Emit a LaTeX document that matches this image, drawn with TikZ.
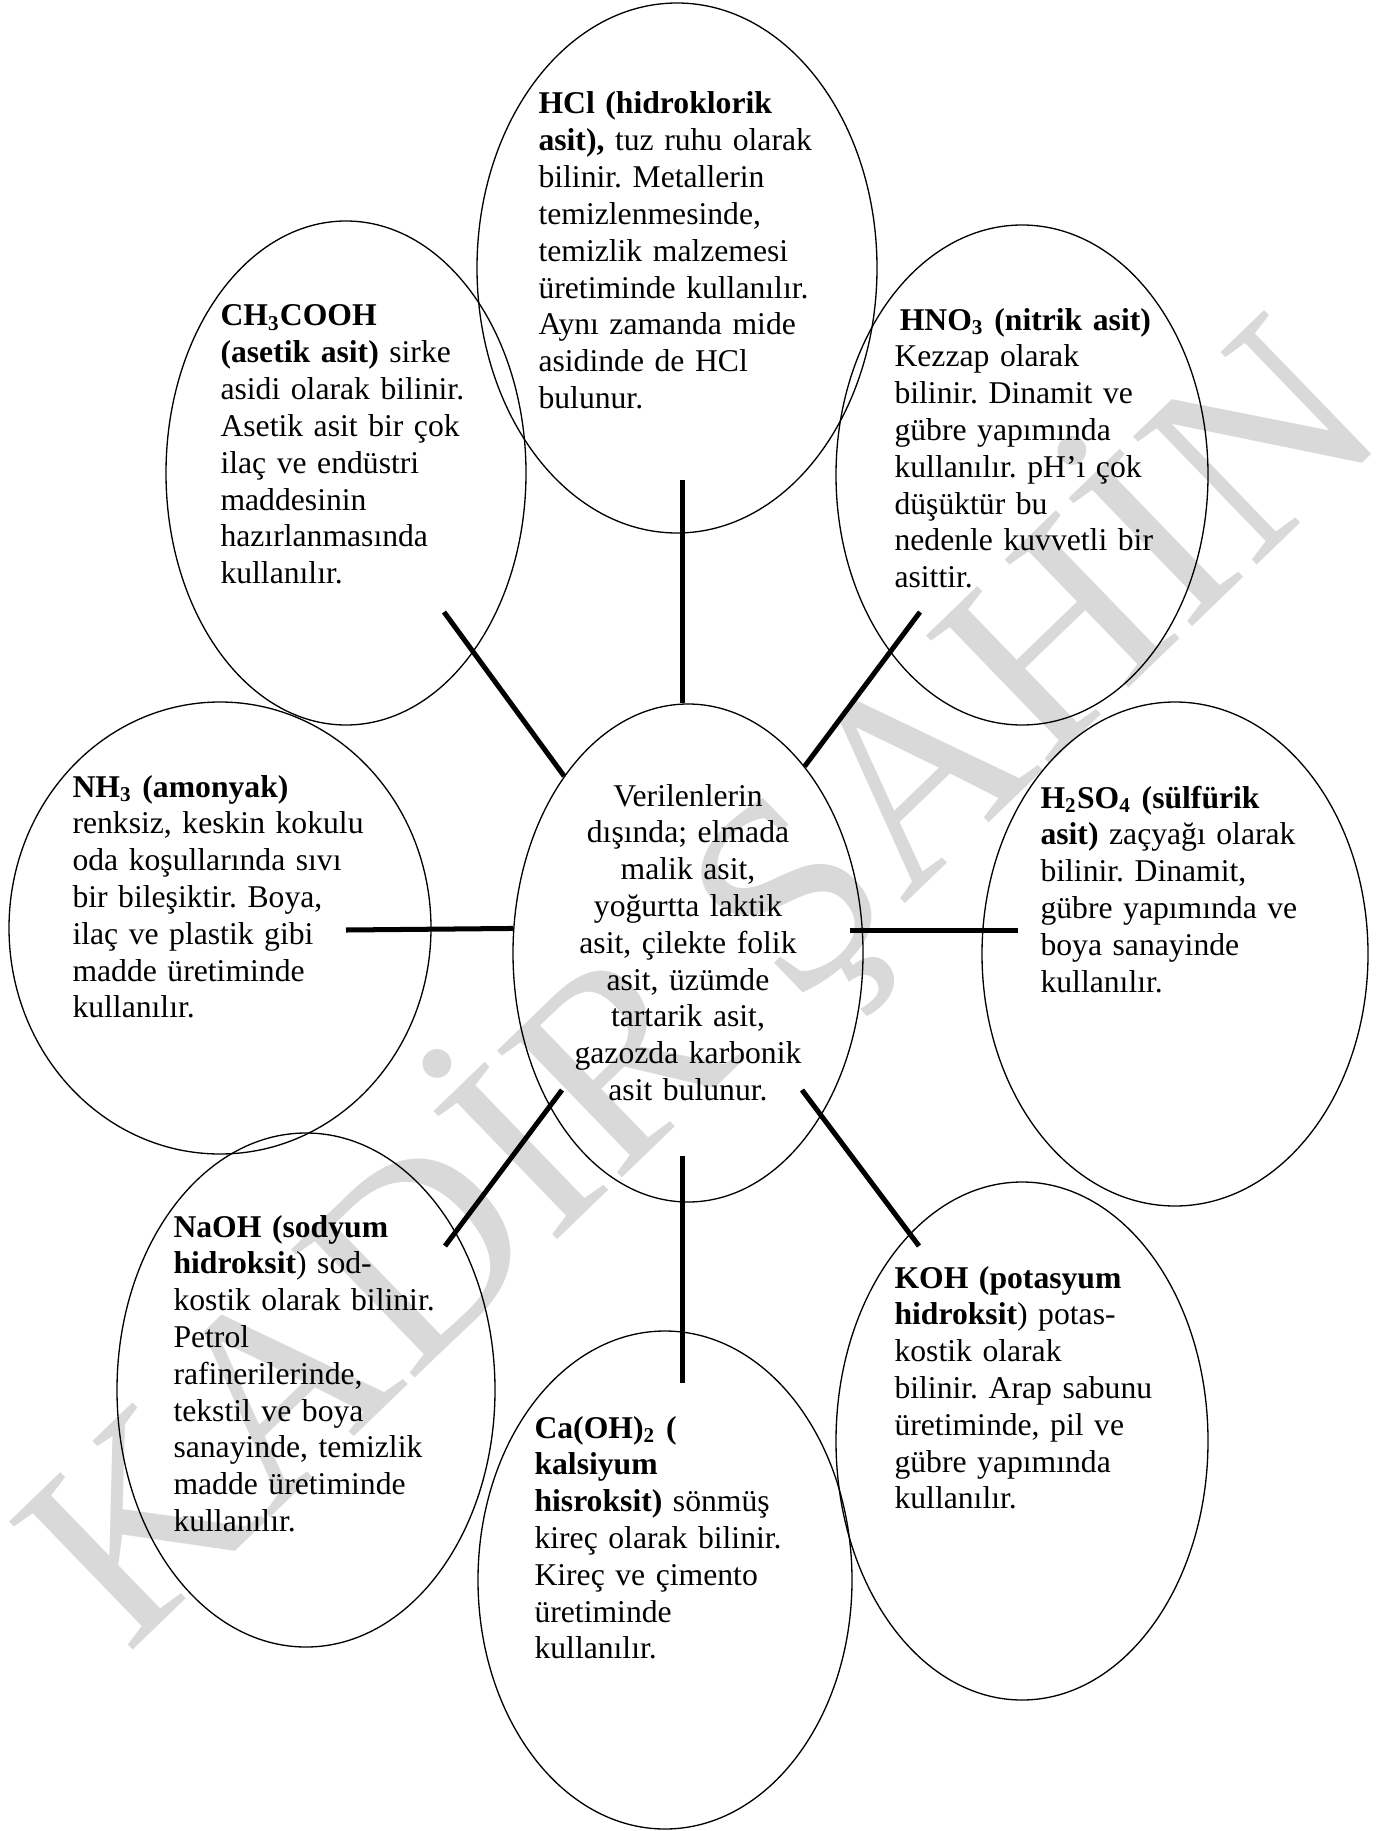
\documentclass[tikz,border=0pt]{standalone}
\usepackage{fontspec}
\setmainfont{Liberation Serif}
\usetikzlibrary{shapes.geometric,calc}

\definecolor{markgray}{RGB}{217,217,217}
\frenchspacing

\begin{document}
\begin{tikzpicture}[x=0.379pt,y=-0.379pt,
	bubble/.style 2 args={ellipse, draw=black, line width=0.5pt, minimum width=#1*0.758pt, minimum height=#2*0.758pt, inner sep=0pt},
	info/.style={anchor=base west, align=left, text width=125pt, inner sep=0pt, font=\fontsize{12}{13.95}\selectfont},
	link/.style={line width=1.9pt}]
	\useasboundingbox (0,0) rectangle (1390,1831);
	% watermark
	\node[text=markgray, rotate=44, inner sep=0pt, font=\fontsize{103}{103}\selectfont] (mark) at (702,985) {KADİR ŞAHİN};
	% bubbles
	\node[bubble={200}{265}] (hcl) at (677,268) {};
	\node[bubble={180}{252}] (acetic) at (346,473) {};
	\node[bubble={186}{250}] (nitric) at (1022,475) {};
	\node[bubble={211}{226}] (ammonia) at (220,928) {};
	\node[bubble={175}{249}] (main) at (688,953) {};
	\node[bubble={193}{252}] (sulfuric) at (1175,954) {};
	\node[bubble={189}{257}] (sodium) at (306,1390) {};
	\node[bubble={187}{249}] (calcium) at (665,1580) {};
	\node[bubble={186}{259}] (potassium) at (1022,1441) {};
	% texts
	\node[info] (hcltext) at ($(hcl.center)+(-139,-154)$) {\textbf{HCl (hidroklorik}\\ \textbf{asit),} tuz ruhu olarak\\ bilinir. Metallerin\\ temizlenmesinde,\\ temizlik malzemesi\\ üretiminde kullanılır.\\ Aynı zamanda mide\\ asidinde de HCl\\ bulunur.};
	\node[info] (acetictext) at ($(acetic.center)+(-126,-147)$) {\textbf{CH\textsubscript{3}COOH}\\ \textbf{(asetik asit)} sirke\\ asidi olarak bilinir.\\ Asetik asit bir çok\\ ilaç ve endüstri\\ maddesinin\\ hazırlanmasında\\ kullanılır.};
	\node[info] (nitrictext) at ($(nitric.center)+(-128,-145)$) {\hspace{2pt}\textbf{HNO\textsubscript{3} (nitrik asit)}\\ Kezzap olarak\\ bilinir. Dinamit ve\\ gübre yapımında\\ kullanılır. pH’ı çok\\ düşüktür bu\\ nedenle kuvvetli bir\\ asittir.};
	\node[info] (ammoniatext) at ($(ammonia.center)+(-148,-131)$) {\textbf{NH\textsubscript{3} (amonyak)}\\ renksiz, keskin kokulu\\ oda koşullarında sıvı\\ bir bileşiktir. Boya,\\ ilaç ve plastik gibi\\ madde üretiminde\\ kullanılır.};
	\node[info, anchor=base, align=center] (maintext) at ($(main.center)+(0,-147)$) {Verilenlerin\\ dışında; elmada\\ malik asit,\\ yoğurtta laktik\\ asit, çilekte folik\\ asit, üzümde\\ tartarik asit,\\ gazozda karbonik\\ asit bulunur.};
	\node[info] (sulfurictext) at ($(sulfuric.center)+(-135,-146)$) {\textbf{H\textsubscript{2}SO\textsubscript{4} (sülfürik}\\ \textbf{asit)} zaçyağı olarak\\ bilinir. Dinamit,\\ gübre yapımında ve\\ boya sanayinde\\ kullanılır.};
	\node[info] (sodiumtext) at ($(sodium.center)+(-133,-153)$) {\textbf{NaOH (sodyum}\\ \textbf{hidroksit}) sod-\\ kostik olarak bilinir.\\ Petrol\\ rafinerilerinde,\\ tekstil ve boya\\ sanayinde, temizlik\\ madde üretiminde\\ kullanılır.};
	\node[info] (calciumtext) at ($(calcium.center)+(-131,-142)$) {\textbf{Ca(OH)\textsubscript{2} (}\\ \textbf{kalsiyum}\\ \textbf{hisroksit)} sönmüş\\ kireç olarak bilinir.\\ Kireç ve çimento\\ üretiminde\\ kullanılır.};
	\node[info] (potassiumtext) at ($(potassium.center)+(-128,-153)$) {\textbf{KOH (potasyum}\\ \textbf{hidroksit}) potas-\\ kostik olarak\\ bilinir. Arap sabunu\\ üretiminde, pil ve\\ gübre yapımında\\ kullanılır.};
	% connectors
	\coordinate (hclend) at (682,480);
	\coordinate (aceticend) at (444,612);
	\coordinate (nitricend) at (920,612);
	\coordinate (ammoniaend) at (346,930);
	\coordinate (sulfuricstart) at (850,930);
	\coordinate (sulfuricend) at (1018,930);
	\coordinate (sodiumstart) at (562,1090);
	\coordinate (sodiumend) at (445,1246);
	\coordinate (potassiumstart) at (802,1090);
	\coordinate (potassiumend) at (919,1246);
	\coordinate (calciumstart) at (682,1156);
	\coordinate (calciumend) at (682,1383);
	\draw[link] (hclend) -- (hclend |- main.north);
	\draw[link] (aceticend) -- (main.125);
	\draw[link] (nitricend) -- (main.58);
	\draw[link] (ammoniaend) -- (main.172);
	\draw[link] (sulfuricstart) -- (sulfuricend);
	\draw[link] (sodiumstart) -- (sodiumend);
	\draw[link] (potassiumstart) -- (potassiumend);
	\draw[link] (calciumstart) -- (calciumend);
\end{tikzpicture}
\end{document}
